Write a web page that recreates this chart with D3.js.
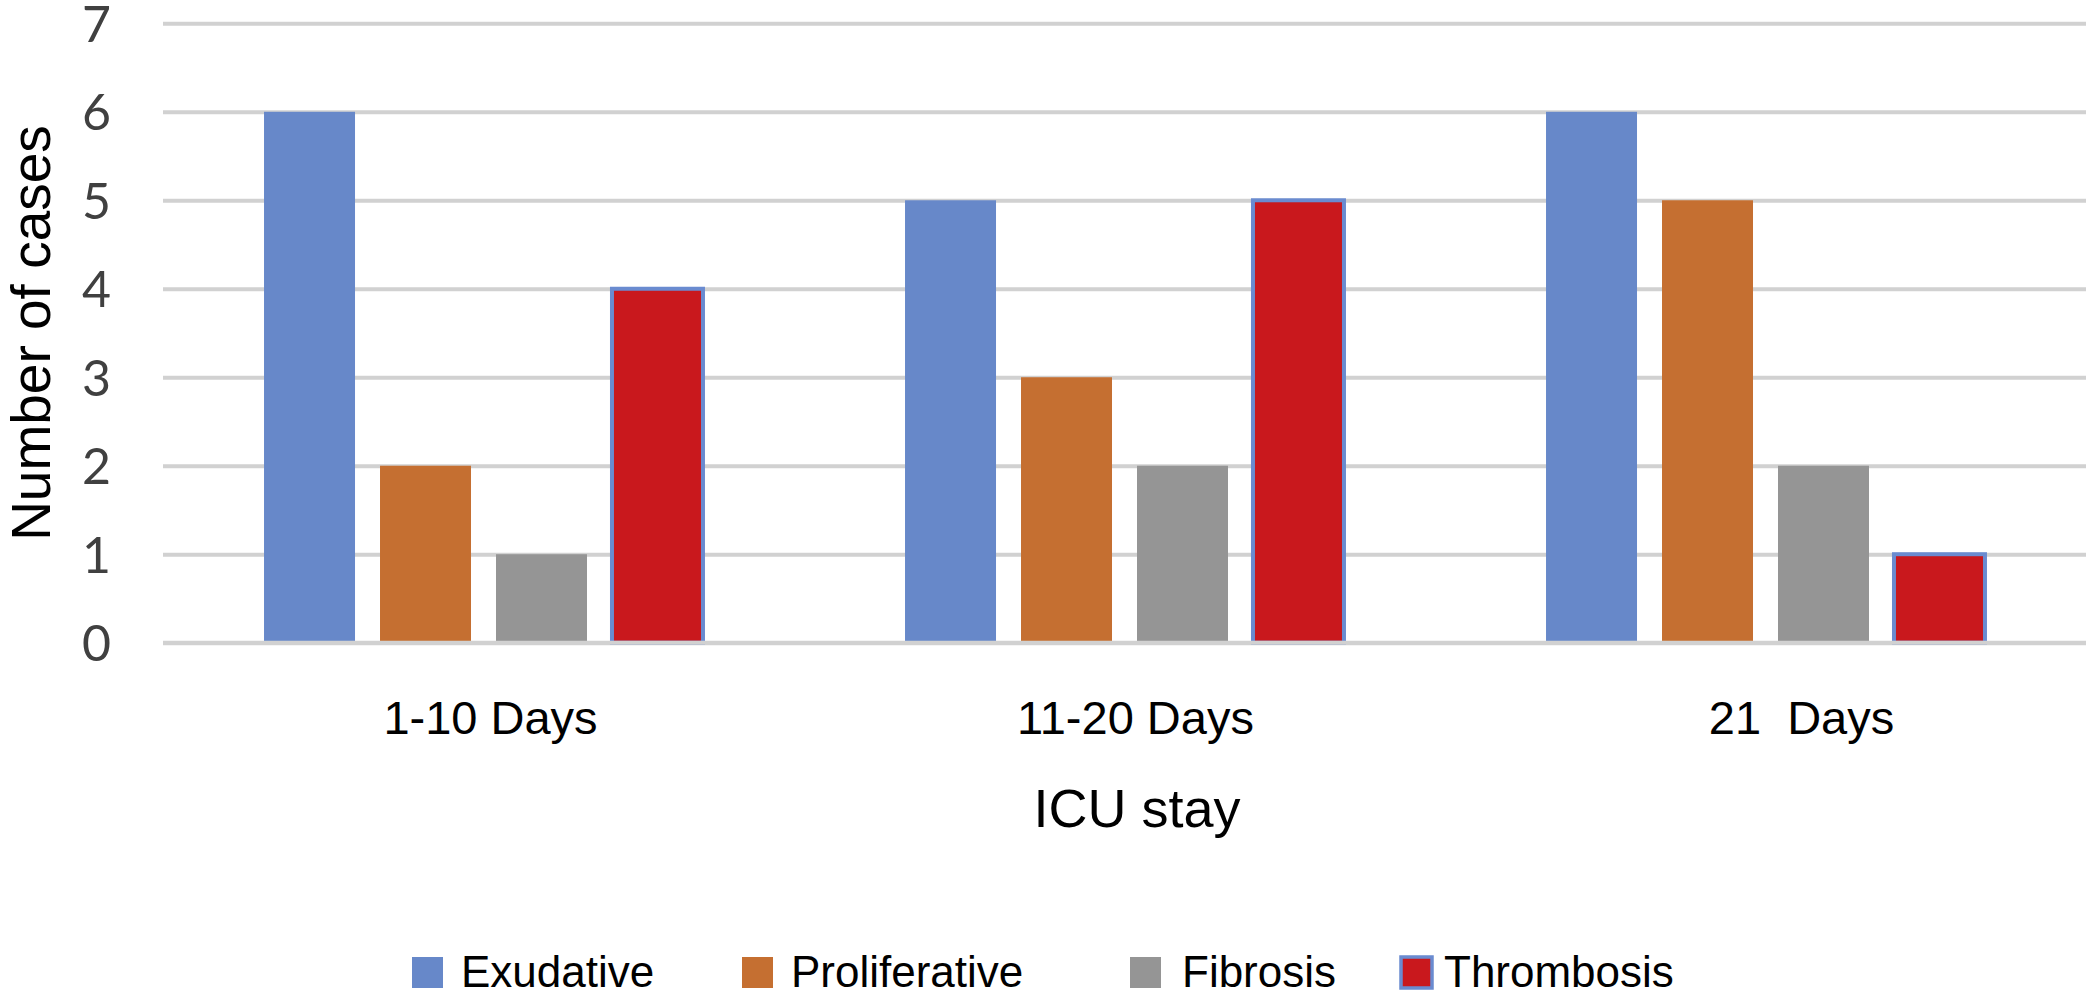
<!DOCTYPE html>
<html>
<head>
<meta charset="utf-8">
<script src="https://cdn.jsdelivr.net/npm/d3@7"></script>
<style>
  body { margin: 0; background: #fff; }
  svg { display: block; }
  .cat { white-space: pre; }
</style>
</head>
<body>
<div id="chart"></div>
<script>
// data
const categories = ["1-10 Days", "11-20 Days", "21  Days"];
const seriesNames = ["Exudative", "Proliferative", "Fibrosis", "Thrombosis"];
const exudative = [6, 5, 6];
const proliferative = [2, 3, 5];
const fibrosis = [1, 2, 2];
const thrombosis = [4, 5, 1];
const yTicks = [0, 1, 2, 3, 4, 5, 6, 7];

const colors = ["#6788c9", "#c56f31", "#959595", "#c9181d"];
const thrombosisStroke = "#6a8bd0";

const w = 2091, h = 1004;
const plotLeft = 163, plotRight = 2086, plotTop = 23.3, plotBottom = 642.7;

const svg = d3.select("#chart").append("svg")
  .attr("width", w).attr("height", h)
  .attr("viewBox", `0 0 ${w} ${h}`);

svg.append("rect").attr("width", w).attr("height", h).attr("fill", "#fff");

const yScale = d3.scaleLinear().domain([0, 7]).range([plotBottom, plotTop]);
const x0 = d3.scaleBand().domain(categories).range([plotLeft, plotRight]);
const x1 = d3.scaleBand().domain(seriesNames)
  .range([0, x0.bandwidth()])
  .paddingInner(0.2155)
  .paddingOuter(0.871);

// gridlines + tick labels
const yAxis = d3.axisLeft(yScale)
  .tickValues(yTicks)
  .tickSize(-(plotRight - plotLeft))
  .tickPadding(52)
  .tickFormat(d3.format("d"));

const gy = svg.append("g")
  .attr("transform", `translate(${plotLeft},0)`)
  .call(yAxis);
gy.select(".domain").remove();
gy.selectAll(".tick line").attr("stroke", "#d1d1d1").attr("stroke-width", 4);
gy.selectAll(".tick text")
  .attr("fill", "#404040")
  .attr("font-family", "Lato, 'Open Sans', sans-serif")
  .attr("font-size", 50)
  .attr("dy", "0.36em");

// bars
const rows = categories.map((c, i) => ({
  cat: c,
  vals: [exudative[i], proliferative[i], fibrosis[i], thrombosis[i]]
}));

const groups = svg.append("g").selectAll("g")
  .data(rows)
  .enter().append("g")
  .attr("transform", d => `translate(${x0(d.cat)},0)`);

groups.selectAll("rect")
  .data(d => d.vals.map((v, j) => ({ name: seriesNames[j], v: v, j: j })))
  .enter().append("rect")
  .attr("x", d => x1(d.name))
  .attr("y", d => yScale(d.v))
  .attr("width", x1.bandwidth())
  .attr("height", d => yScale(0) - yScale(d.v))
  .attr("fill", d => colors[d.j])
  .attr("stroke", d => d.j === 3 ? thrombosisStroke : "none")
  .attr("stroke-width", d => d.j === 3 ? 4 : 0);

// zero line drawn over bar bottoms
svg.append("line")
  .attr("x1", plotLeft).attr("x2", plotRight)
  .attr("y1", yScale(0)).attr("y2", yScale(0))
  .attr("stroke", "#d1d1d1").attr("stroke-width", 4);

// category labels
const catShift = [7, 11, 36];
svg.append("g").selectAll("text")
  .data(categories)
  .enter().append("text")
  .attr("class", "cat")
  .attr("x", (d, i) => x0(d) + x0.bandwidth() / 2 + catShift[i])
  .attr("y", 734)
  .attr("text-anchor", "middle")
  .attr("font-family", "'Liberation Sans', Arial, sans-serif")
  .attr("font-size", 47)
  .attr("fill", "#000")
  .text(d => d);

// axis titles
svg.append("text")
  .attr("x", 1137).attr("y", 827)
  .attr("text-anchor", "middle")
  .attr("font-family", "'Liberation Sans', Arial, sans-serif")
  .attr("font-size", 54)
  .text("ICU stay");

svg.append("text")
  .attr("transform", "translate(50,333) rotate(-90)")
  .attr("text-anchor", "middle")
  .attr("font-family", "'Liberation Sans', Arial, sans-serif")
  .attr("font-size", 55)
  .text("Number of cases");

// legend
const legendX = [412, 742, 1130, 1401];
const textGap = [18, 18, 21, 12];
const lg = svg.append("g").selectAll("g")
  .data(seriesNames)
  .enter().append("g")
  .attr("transform", (d, i) => `translate(${legendX[i]},957)`);

lg.append("rect")
  .attr("width", 31).attr("height", 31)
  .attr("fill", (d, i) => colors[i])
  .attr("stroke", (d, i) => i === 3 ? thrombosisStroke : "none")
  .attr("stroke-width", (d, i) => i === 3 ? 3.5 : 0);

lg.append("text")
  .attr("x", (d, i) => 31 + textGap[i])
  .attr("y", 30)
  .attr("font-family", "'Liberation Sans', Arial, sans-serif")
  .attr("font-size", 44)
  .attr("fill", "#000")
  .text(d => d);
</script>
</body>
</html>
